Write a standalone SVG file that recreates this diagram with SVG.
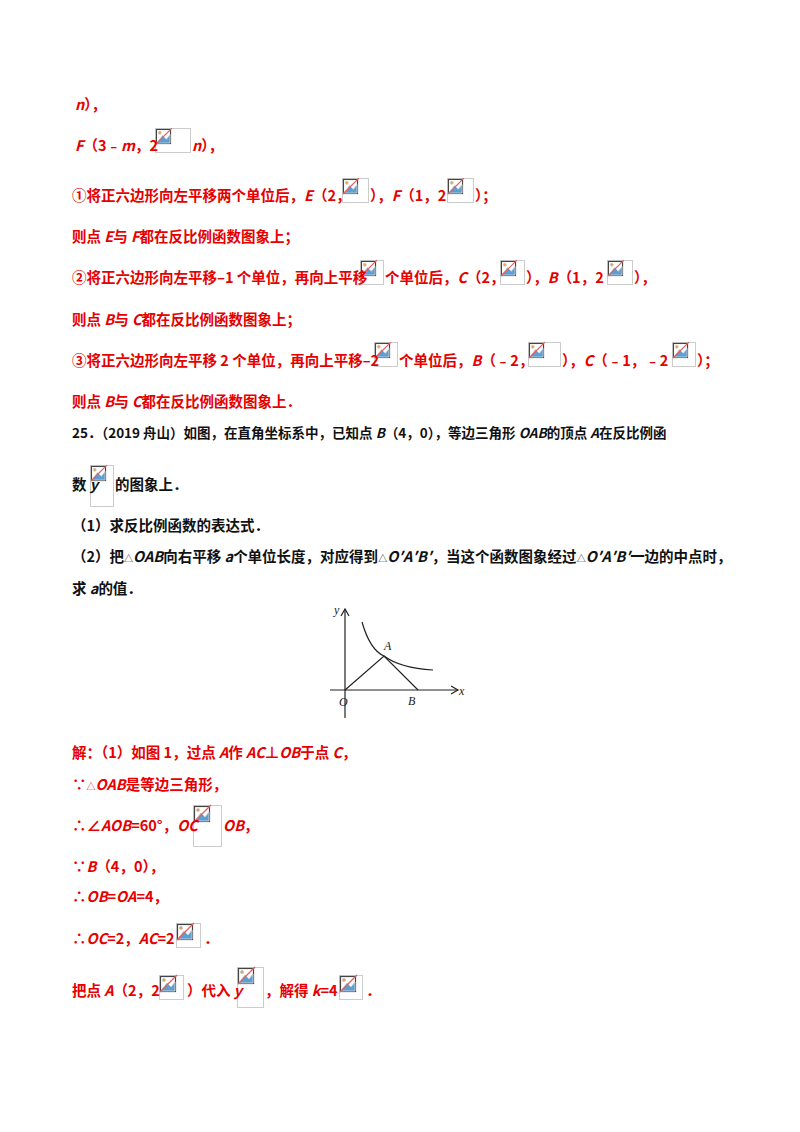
<svg xmlns="http://www.w3.org/2000/svg" xmlns:xlink="http://www.w3.org/1999/xlink" width="800" height="1132" viewBox="0 0 800 1132">
<style>
text{font-family:"Noto Sans CJK SC","Noto Sans",sans-serif;font-size:14.5px;font-weight:bold}
.r{fill:#e60000}.k{fill:#111}
.i{font-style:italic}
.s{font-size:13.5px}
.t{font-size:9px;font-weight:normal}
.f{font-family:"Liberation Serif",serif;font-style:italic;font-weight:normal;font-size:12px;fill:#222}
.ax{stroke:#222;stroke-width:1.2;fill:none}
</style>
<defs>
<symbol id="ic" viewBox="0 0 16 16" overflow="visible">
<rect x="0.5" y="0.5" width="15" height="15" fill="#fff" stroke="#444" stroke-width="1.2"/>
<path d="M1 15 L7 7 L11 11 L15 6 L15 15 Z" fill="#5aa0d8"/>
<circle cx="4" cy="4" r="1.6" fill="#f0a030"/>
<line x1="0" y1="16" x2="17" y2="-1" stroke="#e06060" stroke-width="1.2"/>
</symbol>
</defs>
<g id="imgs" fill="none" stroke="#ccc" stroke-width="1">
<rect x="155.5" y="128.5" width="35" height="24"/><use href="#ic" x="156" y="129" width="15" height="15"/>
<rect x="342.5" y="178.5" width="26" height="24"/><use href="#ic" x="343" y="179" width="15" height="15"/>
<rect x="447.5" y="178.5" width="26" height="24"/><use href="#ic" x="448" y="179" width="15" height="15"/>
<rect x="360.5" y="260.5" width="23" height="24"/><use href="#ic" x="361" y="261" width="15" height="15"/>
<rect x="500.5" y="260.5" width="24" height="24"/><use href="#ic" x="501" y="261" width="15" height="15"/>
<rect x="607.5" y="260.5" width="25" height="24"/><use href="#ic" x="608" y="261" width="15" height="15"/>
<rect x="374.5" y="342.5" width="23" height="24"/><use href="#ic" x="375" y="343" width="15" height="15"/>
<rect x="528.5" y="342.5" width="32" height="24"/><use href="#ic" x="529" y="343" width="15" height="15"/>
<rect x="672.5" y="342.5" width="23" height="24"/><use href="#ic" x="673" y="343" width="15" height="15"/>
<rect x="90.5" y="465.5" width="23" height="41"/><use href="#ic" x="91" y="466" width="15" height="15"/>
<rect x="193.5" y="805.5" width="28" height="41"/><use href="#ic" x="194" y="806" width="16" height="16"/>
<rect x="176.5" y="923.5" width="24" height="24"/><use href="#ic" x="177" y="924" width="16" height="16"/>
<rect x="159.5" y="975.5" width="24" height="24"/><use href="#ic" x="160" y="976" width="16" height="16"/>
<rect x="237.5" y="967.5" width="26" height="40"/><use href="#ic" x="238" y="968" width="16" height="16"/>
<rect x="339.5" y="975.5" width="23" height="24"/><use href="#ic" x="340" y="976" width="16" height="16"/>
</g>
<g id="texts">
<text class="r" x="75" y="110"><tspan class="i">n</tspan>），</text>
<text class="r" x="75" y="151"><tspan class="i">F</tspan>（3﹣<tspan class="i">m</tspan>，2</text>
<text class="r" x="192" y="151"><tspan class="i">n</tspan>），</text>
<text class="r" x="72" y="201">①将正六边形向左平移两个单位后，<tspan class="i">E</tspan>（2，</text>
<text class="r" x="370" y="201">），<tspan class="i">F</tspan>（1，2</text>
<text class="r" x="475" y="201">）；</text>
<text class="r" x="72" y="242">则点 <tspan class="i">E</tspan>与 <tspan class="i">F</tspan>都在反比例函数图象上；</text>
<text class="r" x="72" y="283">②将正六边形向左平移–1 个单位，再向上平移</text>
<text class="r" x="385" y="283">个单位后，<tspan class="i">C</tspan>（2，</text>
<text class="r" x="526" y="283">），<tspan class="i">B</tspan>（1，2</text>
<text class="r" x="634" y="283">），</text>
<text class="r" x="72" y="325">则点 <tspan class="i">B</tspan>与 <tspan class="i">C</tspan>都在反比例函数图象上；</text>
<text class="r" x="72" y="366">③将正六边形向左平移 2 个单位，再向上平移–2</text>
<text class="r" x="399" y="366">个单位后，<tspan class="i">B</tspan>（﹣2，</text>
<text class="r" x="562" y="366">），<tspan class="i">C</tspan>（﹣1，﹣2</text>
<text class="r" x="697" y="366">）；</text>
<text class="r" x="72" y="407">则点 <tspan class="i">B</tspan>与 <tspan class="i">C</tspan>都在反比例函数图象上．</text>
<text class="k s" x="72" y="438">25．（2019 舟山）如图，在直角坐标系中，已知点 <tspan class="i">B</tspan>（4，0），等边三角形 <tspan class="i">OAB</tspan>的顶点 <tspan class="i">A</tspan>在反比例函</text>
<text class="k" x="72" y="490">数 <tspan class="i">y</tspan></text>
<text class="k" x="115" y="490">的图象上．</text>
<text class="k" x="72" y="531">（1）求反比例函数的表达式．</text>
<text class="k" x="72" y="562">（2）把<tspan class="t">△</tspan><tspan class="i">OAB</tspan>向右平移 <tspan class="i">a</tspan>个单位长度，对应得到<tspan class="t">△</tspan><tspan class="i">O′A′B′</tspan>，当这个函数图象经过<tspan class="t">△</tspan><tspan class="i">O′A′B′</tspan>一边的中点时，</text>
<text class="k" x="72" y="594">求 <tspan class="i">a</tspan>的值．</text>
<text class="r" x="72" y="758">解：（1）如图 1，过点 <tspan class="i">A</tspan>作 <tspan class="i">AC</tspan>⊥<tspan class="i">OB</tspan>于点 <tspan class="i">C</tspan>，</text>
<text class="r" x="72" y="790">∵<tspan class="t">△</tspan><tspan class="i">OAB</tspan>是等边三角形，</text>
<text class="r" x="72" y="831">∴∠<tspan class="i">AOB</tspan>=60°，<tspan class="i">OC</tspan></text>
<text class="r" x="223" y="831"><tspan class="i">OB</tspan>，</text>
<text class="r" x="72" y="872">∵<tspan class="i">B</tspan>（4，0），</text>
<text class="r" x="72" y="902">∴<tspan class="i">OB</tspan>=<tspan class="i">OA</tspan>=4，</text>
<text class="r" x="72" y="944">∴<tspan class="i">OC</tspan>=2，<tspan class="i">AC</tspan>=2</text>
<text class="r" x="204" y="944">．</text>
<text class="r" x="72" y="996">把点 <tspan class="i">A</tspan>（2，2</text>
<text class="r" x="187" y="996">）代入 <tspan class="i">y</tspan></text>
<text class="r" x="265" y="996">，解得 <tspan class="i">k</tspan>=4</text>
<text class="r" x="366" y="996">．</text>
</g>
<g id="figure">
<line class="ax" x1="345" y1="718" x2="345" y2="609"/>
<path class="ax" d="M341 616 L345 609 L349 616"/>
<line class="ax" x1="330" y1="690" x2="458" y2="690"/>
<path class="ax" d="M451 686 L458 690 L451 694"/>
<path class="ax" d="M345 690 L384 656 L418 690"/>
<path class="ax" d="M362 622 Q370 650 384 656 Q400 668 433 670"/>
<text class="f" x="339" y="706">O</text>
<text class="f" x="408" y="705">B</text>
<text class="f" x="384" y="650">A</text>
<text class="f" x="459" y="695">x</text>
<text class="f" x="334" y="614">y</text>
</g>
</svg>
